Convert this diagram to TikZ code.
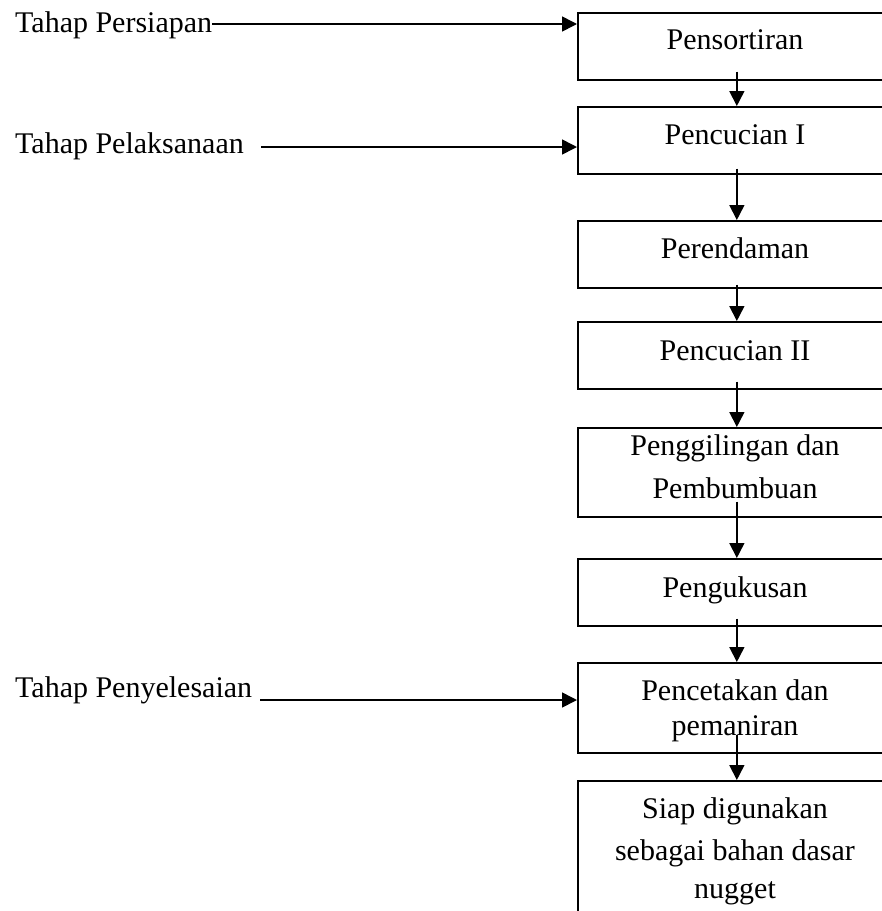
\documentclass[tikz,border=0pt]{standalone}
\usepackage{fontspec}
\setmainfont{Liberation Serif}
\usetikzlibrary{arrows.meta}
\begin{document}
\begin{tikzpicture}[x=1pt,y=-1pt,
  box/.style={draw=black, line width=1.7pt, minimum width=318pt, anchor=north west, inner sep=0pt},
  txt/.style={anchor=base, inner sep=0pt, font=\fontsize{30}{34}\selectfont},
  lbl/.style={anchor=base west, inner sep=0pt, font=\fontsize{30}{34}\selectfont},
  arr/.style={line width=1.6pt, -{Triangle[length=15pt,width=15pt]}}]
\useasboundingbox (0,0) rectangle (882,911);
\clip (0,0) rectangle (882,911);
\fill[white] (0,0) rectangle (882,911);
% boxes
\node[box, minimum height=67pt] (b1) at (577,12) {};
\node[box, minimum height=67pt] (b2) at (577,106) {};
\node[box, minimum height=67pt] (b3) at (577,220) {};
\node[box, minimum height=67pt] (b4) at (577,321) {};
\node[box, minimum height=89pt] (b5) at (577,427) {};
\node[box, minimum height=67pt] (b6) at (577,558) {};
\node[box, minimum height=90pt] (b7) at (577,662) {};
\node[box, minimum height=160pt] (b8) at (577,780) {};
% box texts
\node[txt] (t1) at (735,49) {Pensortiran};
\node[txt] (t2) at (735,144) {Pencucian I};
\node[txt] (t3) at (735,258) {Perendaman};
\node[txt] (t4) at (735,360) {Pencucian II};
\node[txt] (t5a) at (735,455) {Penggilingan dan};
\node[txt] (t5b) at (735,498) {Pembumbuan};
\node[txt] (t6) at (735,597) {Pengukusan};
\node[txt] (t7a) at (735,700) {Pencetakan dan};
\node[txt] (t7b) at (735,735) {pemaniran};
\node[txt] (t8a) at (735,818) {Siap digunakan};
\node[txt] (t8b) at (735,860) {sebagai bahan dasar};
\node[txt] (t8c) at (735,898) {nugget};
% stage labels
\node[lbl] (l1) at (15,32) {Tahap Persiapan};
\node[lbl] (l2) at (15,153) {Tahap Pelaksanaan};
\node[lbl] (l3) at (15,697) {Tahap Penyelesaian};
% horizontal arrows
\draw[arr] (l1.east |- 0,24) -- (b1.west |- 0,24);
\draw[arr] ([xshift=17pt]l2.east |- 0,147) -- (b2.west |- 0,147);
\draw[arr] ([xshift=8pt]l3.east |- 0,700) -- (b7.west |- 0,700);
% vertical arrows
\draw[arr] ([yshift=9pt]b1.south) -- (b2.north);
\draw[arr] ([yshift=6pt]b2.south) -- (b3.north);
\draw[arr] ([yshift=4pt]b3.south) -- (b4.north);
\draw[arr] ([yshift=8pt]b4.south) -- (b5.north);
\draw[arr] ([yshift=16pt]b5.south) -- (b6.north);
\draw[arr] ([yshift=8pt]b6.south) -- (b7.north);
\draw[arr] ([yshift=19pt]b7.south) -- (b8.north);
\end{tikzpicture}
\end{document}
